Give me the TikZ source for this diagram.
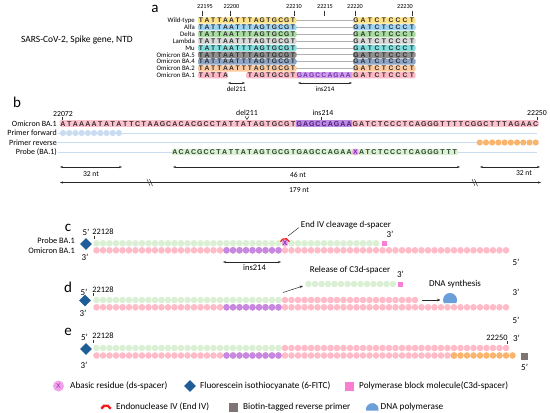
\documentclass[tikz,border=0pt]{standalone}
\usepackage{fontspec}
\setmainfont{Carlito}
\newfontfamily\seqfont{Liberation Sans}
\usetikzlibrary{arrows.meta,shapes.geometric}
\definecolor{cwt}{HTML}{FFE38A}
\definecolor{calfa}{HTML}{9DD3F3}
\definecolor{cdelta}{HTML}{A8DCA0}
\definecolor{clambda}{HTML}{D9D9D9}
\definecolor{cmu}{HTML}{80E0E0}
\definecolor{cbafive}{HTML}{8F8F8F}
\definecolor{cbafour}{HTML}{8FA5C6}
\definecolor{cbatwo}{HTML}{FFC9A0}
\definecolor{cbaone}{HTML}{FFB8C6}
\definecolor{cinsbg}{HTML}{CFA3EC}
\definecolor{cinstx}{HTML}{7A2DAF}
\definecolor{cinsbgb}{HTML}{BC8BE2}
\definecolor{cinstxb}{HTML}{4E1A78}
\definecolor{cseqtx}{HTML}{2E2E2E}
\definecolor{cseqtxb}{HTML}{3A2A2E}
\definecolor{cpinkbg}{HTML}{FBC3CE}
\definecolor{cgreenbg}{HTML}{DDF0D6}
\definecolor{cgreentx}{HTML}{27432A}
\definecolor{cmag}{HTML}{F2A2EA}
\definecolor{cbluelt}{HTML}{C9DCF1}
\definecolor{cline}{HTML}{CADDF0}
\definecolor{corange}{HTML}{F9B46E}
\definecolor{cpinkc}{HTML}{FFBCC8}
\definecolor{cgreenc}{HTML}{DAEFD3}
\definecolor{cpurc}{HTML}{C688E0}
\definecolor{cfitc}{HTML}{1F5D99}
\definecolor{csq}{HTML}{FA7FD4}
\definecolor{cgrey}{HTML}{7E7474}
\definecolor{cpol}{HTML}{6C9FD9}
\definecolor{cend}{HTML}{F21C1C}
\definecolor{cgap}{HTML}{B0B0B0}
\tikzset{
 lab/.style={inner sep=0pt, font=\fontsize{7}{8}\selectfont},
 rowlab/.style={inner sep=0pt, anchor=east, font=\fontsize{6.8}{7}\selectfont},
 rowlabb/.style={inner sep=0pt, anchor=east, font=\fontsize{8}{9}\selectfont},
 rowlabc/.style={inner sep=0pt, anchor=east, font=\fontsize{8.3}{9}\selectfont},
 numa/.style={inner sep=0pt, font=\fontsize{6.2}{7}\selectfont},
 numb/.style={inner sep=0pt, font=\fontsize{7.8}{8}\selectfont},
 numc/.style={inner sep=0pt, font=\fontsize{8.3}{9}\selectfont},
 ann/.style={inner sep=0pt, font=\fontsize{9}{10}\selectfont},
 leg/.style={inner sep=0pt, anchor=west, font=\fontsize{9.2}{10}\selectfont},
 panel/.style={inner sep=0pt, font=\fontsize{15}{16}\selectfont},
 lta/.style={inner sep=0pt, text height=4.7pt, text depth=0pt, font=\seqfont\fontsize{6.7}{7}\selectfont\bfseries, text=cseqtx},
 ltb/.style={inner sep=0pt, text height=5pt, text depth=0pt, font=\seqfont\fontsize{7}{7}\selectfont\bfseries, text=cseqtxb},
 dim/.style={{Stealth[length=3pt,width=2.2pt]}-{Stealth[length=3pt,width=2.2pt]}, line width=0.5pt, draw=black!85},
 arr/.style={-{Stealth[length=3.5pt,width=2.6pt]}, line width=0.5pt, draw=black!85},
 tick/.style={line width=0.5pt, draw=black!80},
 bline/.style={line width=0.7pt, draw=cline},
 fitc/.style={diamond, fill=cfitc, minimum size=12pt, inner sep=0pt},
}
\newcommand\dotrow[4]{\foreach \k in {#1,...,#2} {\fill[#4] ({96.5+6.5*\k},#3) circle (3.3);}}
\begin{document}
\begin{tikzpicture}[x=1pt,y=-1pt]
\useasboundingbox (0,0) rectangle (550,413);

% ---------------- panel a ----------------
\node[panel] (pa) at (155,9) {a};
\node[inner sep=0pt, anchor=east, font=\fontsize{9.5}{10}\selectfont] (sars) at (133,40) {SARS-CoV-2, Spike gene, NTD};
\foreach \t/\x/\tx in {22195/202/205, 22200/230/231.5, 22210/294/294, 22215/324/325, 22220/355/355, 22230/412/405} {
  \node[numa] (na\t) at (\tx,6.5) {\t};
  \draw[tick] (\x,10.5) -- (\x,16);
}
\foreach \lab/\col [count=\i from 0] in {Wild-type/cwt, Alfa/calfa, Delta/cdelta, Lambda/clambda, Mu/cmu, Omicron BA.5/cbafive, Omicron BA.4/cbafour, Omicron BA.2/cbatwo} {
  \pgfmathsetmacro\yy{20.5+6.85*\i}
  \node[rowlab] (la\i) at (195,\yy) {\lab};
  \draw[cgap, line width=0.7pt] (296,\yy) -- (353,\yy);
  \fill[\col, rounded corners=1.5pt] (198,{\yy-3.1}) rectangle (296.5,{\yy+3.1});
  \fill[\col, rounded corners=1.5pt] (353,{\yy-3.1}) rectangle (415.5,{\yy+3.1});
  \foreach \c [count=\k from 0] in {T,A,T,T,A,A,T,T,T,A,G,T,G,C,G,T}
    {\node[lta] (a\i-\k) at ({201+6.13*\k},\yy) {\c};}
  \foreach \c [count=\k from 0] in {G,A,T,C,T,C,C,C,T}
    {\node[lta] (b\i-\k) at ({356+7*\k},\yy) {\c};}
}
% BA.1 row
\node[rowlab] (la8) at (195,75.3) {Omicron BA.1};
\fill[cbaone, rounded corners=1.5pt] (198,72.2) rectangle (228,78.4);
\fill[cbaone, rounded corners=1.5pt] (246,72.2) rectangle (415.5,78.4);
\fill[cinsbg] (296.5,72.2) rectangle (352,78.4);
\foreach \c [count=\k from 0] in {T,A,T,T,A}
  {\node[lta] (c8-\k) at ({201+6.13*\k},75.3) {\c};}
\foreach \c [count=\k from 8] in {T,A,G,T,G,C,G,T}
  {\node[lta] (c8-\k) at ({201+6.13*\k},75.3) {\c};}
\foreach \c [count=\k from 0] in {G,A,G,C,C,A,G,A,A}
  {\node[lta, text=cinstx] (i8-\k) at ({299.5+6.1*\k},75.3) {\c};}
\foreach \c [count=\k from 0] in {G,A,T,C,T,C,C,C,T}
  {\node[lta] (b8-\k) at ({356+7*\k},75.3) {\c};}
\coordinate (da1) at (228,83); \coordinate (da2) at (245,83);
\draw[dim] (da1) -- (da2);
\node[lab] (dela) at (236.5,89.5) {del211};
\coordinate (ia1) at (298,83); \coordinate (ia2) at (352,83);
\draw[dim] (ia1) -- (ia2);
\node[lab] (insa) at (325,89.5) {ins214};

% ---------------- panel b ----------------
\node[panel] (pb) at (17,102.5) {b};
\node[numb] (n22072) at (63,113.5) {22072};
\draw[tick] (62,116.5) -- (62,120);
\node[numb] (ndelb) at (247,112.5) {del211};
\draw[tick] (245,116.3) -- (247,119.5) -- (249,116.3);
\node[numb] (ninsb) at (323,113) {ins214};
\draw[tick] (321,116.5) -- (321,120);
\node[numb] (n22250) at (537,113) {22250};
\draw[tick] (537,116.5) -- (537,120);
\node[rowlabb] (lb1) at (57,123.5) {Omicron BA.1};
\node[rowlabb] (lb2) at (57,133) {Primer forward};
\node[rowlabb] (lb3) at (57,142.5) {Primer reverse};
\node[rowlabb] (lb4) at (57,152) {Probe (BA.1)};
\draw[bline] (58,133) -- (537,133);
\draw[bline] (58,142.5) -- (537,142.5);
\draw[bline] (58,152) -- (537,152);
\fill[cpinkbg, rounded corners=2pt] (59.5,120.2) rectangle (539,126.8);
\fill[cinsbgb] (296.3,120.2) rectangle (352.2,126.8);
\foreach \c [count=\k from 0] in {A,T,A,A,A,A,T,A,T,A,T,T,C,T,A,A,G,C,A,C,A,C,G,C,C,T,A,T,T,A,T,A,G,T,G,C,G,T}
  {\node[ltb] (s\k) at ({63+6.22*\k},123.5) {\c};}
\foreach \c [count=\k from 38] in {G,A,G,C,C,A,G,A,A}
  {\node[ltb, text=cinstxb] (s\k) at ({63+6.22*\k},123.5) {\c};}
\foreach \c [count=\k from 47] in {G,A,T,C,T,C,C,C,T,C,A,G,G,G,T,T,T,T,C,G,G,C,T,T,T,A,G,A,A,C}
  {\node[ltb] (s\k) at ({63+6.22*\k},123.5) {\c};}
\foreach \k in {0,...,9} {\fill[cbluelt] ({63+6.22*\k},133) circle (3.1);}
\foreach \k in {67,...,76} {\fill[corange] ({63+6.22*\k},142.5) circle (3.1);}
\fill[cgreenbg, rounded corners=2pt] ({63+6.22*18-3.2},148.8) rectangle ({63+6.22*63+3.2},155.2);
\foreach \c [count=\k from 18] in {A,C,A,C,G,C,C,T,A,T,T,A,T,A,G,T,G,C,G,T,G,A,G,C,C,A,G,A,A}
  {\node[ltb, text=cgreentx] (p\k) at ({63+6.22*\k},152) {\c};}
\fill[cmag] ({63+6.22*47},152) circle (3.4);
\node[ltb, text=cinstx] (p47) at ({63+6.22*47},152) {X};
\foreach \c [count=\k from 48] in {A,T,C,T,C,C,C,T,C,A,G,G,G,T,T,T}
  {\node[ltb, text=cgreentx] (p\k) at ({63+6.22*\k},152) {\c};}
% dimensions
\coordinate (m1) at (60,167); \coordinate (m2) at (122,167);
\coordinate (m3) at (173,167); \coordinate (m4) at (460,167);
\coordinate (m5) at (480,167); \coordinate (m6) at (540,167);
\coordinate (m7) at (60,182.5); \coordinate (m8) at (541,182.5);
\draw[dim] (m1) -- (m2);
\draw[dim] (m3) -- (m4);
\draw[dim] (m5) -- (m6);
\draw[dim] (m7) -- (m8);
\node[lab, font=\fontsize{7.6}{8}\selectfont] (t32a) at (91,174) {32 nt};
\node[lab, font=\fontsize{7.6}{8}\selectfont] (t46) at (298,175) {46 nt};
\node[lab, font=\fontsize{7.6}{8}\selectfont] (t32b) at (524,173.5) {32 nt};
\node[lab, font=\fontsize{7.6}{8}\selectfont] (t179) at (299,190) {179 nt};
\foreach \bx in {149.5,474.5} {
  \draw[tick] ({\bx-2.5},179) -- ({\bx+0.5},186);
  \draw[tick] ({\bx},179) -- ({\bx+3},186);
}

% ---------------- panel c ----------------
\node[panel] (pc) at (68,227.5) {c};
\node[ann] (c5) at (86,232.5) {5’};
\node[numc] (c22128) at (103,232) {22128};
\draw[tick] (94,235.5) -- (94,239);
\node[rowlabc] (lc1) at (75,240.5) {Probe BA.1};
\node[rowlabc] (lc2) at (75,250.5) {Omicron BA.1};
\dotrow{0}{63}{250.3}{cpinkc}
\dotrow{20}{28}{250.3}{cpurc}
\dotrow{0}{43}{243.3}{cgreenc}
\fill[cmag] ({96.5+6.5*29},243.3) circle (3.4);
\node[ltb, text=cinstx] (cx) at ({96.5+6.5*29},243.3) {X};
\draw[cend, line width=1.3pt] (280.5,241.7) arc[start angle=200, end angle=340, radius=4.8];
\fill[csq] (381.7,240.8) rectangle (386.7,245.8);
\node[fitc] (dc) at (86,244) {};
\node[ann] (c3a) at (85,257.5) {3’};
\node[ann] (c3b) at (390,234) {3’};
\node[ann] (c5b) at (516,262) {5’};
\node[ann] (endiv) at (346,225) {End IV cleavage d-spacer};
\coordinate (e1) at (299,227.5); \coordinate (e2) at (288,236);
\draw[tick] (e1) -- (e2);
\coordinate (ic1) at (223,262); \coordinate (ic2) at (281,262);
\draw[dim] (ic1) -- (ic2);
\node[ann, font=\fontsize{8.5}{9}\selectfont] (insc) at (254.5,268) {ins214};

% ---------------- panel d ----------------
\node[panel] (pd) at (68,287) {d};
\node[ann] (d5) at (84,292) {5’};
\node[numc] (d22128) at (103,289.5) {22128};
\draw[tick] (93,293) -- (93,296);
\dotrow{0}{63}{307.3}{cpinkc}
\dotrow{20}{28}{307.3}{cpurc}
\dotrow{0}{28}{300}{cgreenc}
\dotrow{29}{49}{300}{cpinkc}
\node[fitc] (dd) at (85,300.5) {};
\node[ann] (d3a) at (83,313.5) {3’};
\node[ann] (d3b) at (516,292) {3’};
\node[ann] (d5b) at (516,320) {5’};
\foreach \k in {0,...,13} {\fill[cgreenc] ({308.5+6.5*\k},284) circle (3.3);}
\fill[csq] (398,281.5) rectangle (403,286.5);
\node[ann] (d3c) at (400.5,274.5) {3’};
\node[ann] (rel) at (350,270) {Release of C3d-spacer};
\coordinate (r1) at (283,292.5); \coordinate (r2) at (303,286);
\draw[arr] (r1) -- (r2);
\node[ann] (dsyn) at (455,284) {DNA synthesis};
\coordinate (s1) at (422,300); \coordinate (s2) at (440.5,300);
\draw[arr] (s1) -- (s2);
\fill[cpol] (456.32,303) arc[start angle=25.4, end angle=-205.4, radius=7] -- cycle;

% ---------------- panel e ----------------
\node[panel] (pe) at (68,332) {e};
\node[ann] (e5) at (84.5,337) {5’};
\node[numc] (e22128) at (103,336) {22128};
\draw[tick] (93,339.5) -- (93,343);
\dotrow{0}{55}{355.5}{cpinkc}
\dotrow{20}{28}{355.5}{cpurc}
\dotrow{55}{64}{355.5}{corange}
\dotrow{0}{28}{348}{cgreenc}
\dotrow{29}{63}{348}{cpinkc}
\node[fitc] (de) at (86,349) {};
\fill[cgrey] (521.4,353.4) rectangle (527.8,359.8);
\node[ann] (e3a) at (84,365.5) {3’};
\node[numc] (e22250) at (497,337.5) {22250};
\draw[tick] (507,340.5) -- (507,344);
\node[ann] (e3b) at (516.5,338.5) {3’};
\node[ann] (e5b) at (524.6,367) {5’};

% ---------------- legend ----------------
\fill[cmag] (58.5,386) circle (5.5);
\node[ltb, text=cinstx, font=\seqfont\fontsize{7}{8}\selectfont] (lgx) at (58.5,386) {X};
\node[leg] (lg1) at (70,386) {Abasic residue (ds-spacer)};
\node[fitc] (lgd) at (190,386) {};
\node[leg] (lg2) at (200,386) {Fluorescein isothiocyanate (6-FITC)};
\fill[csq] (345,381.5) rectangle (354,390.5);
\node[leg] (lg3) at (359,386) {Polymerase block molecule(C3d-spacer)};
\draw[cend, line width=2.4pt] (101.3,408.7) arc[start angle=200, end angle=340, radius=5];
\node[leg] (lg4) at (116,407) {Endonuclease IV (End IV)};
\fill[cgrey] (229,402.5) rectangle (238,411.5);
\node[leg] (lg5) at (243,407) {Biotin-tagged reverse primer};
\fill[cpol] (378.5,410.5) arc[start angle=10, end angle=-190, radius=6.3] -- cycle;
\node[leg] (lg6) at (380.5,407) {DNA polymerase};
\end{tikzpicture}
\end{document}
